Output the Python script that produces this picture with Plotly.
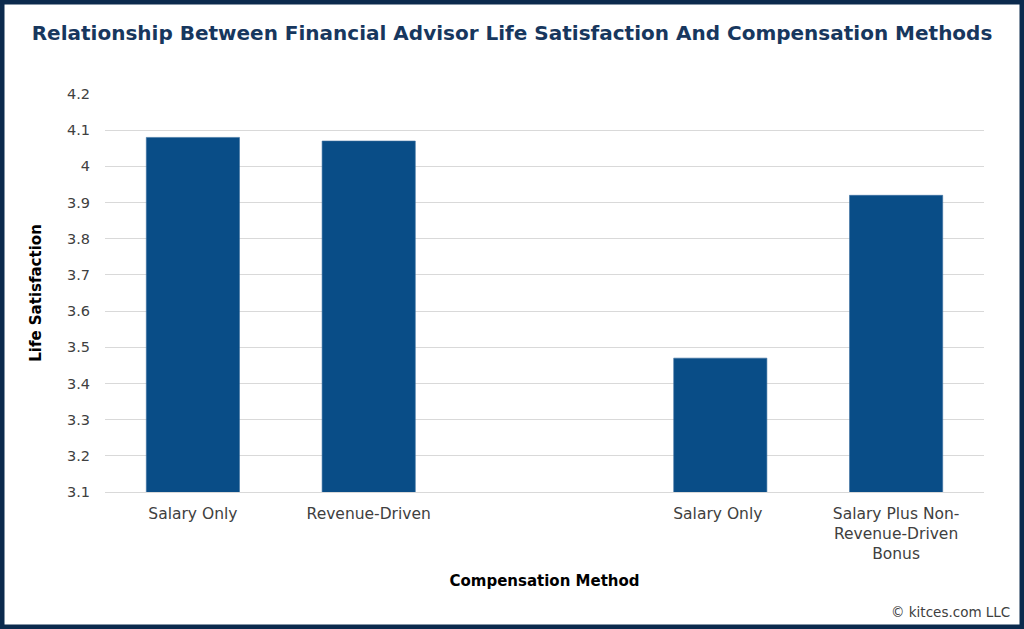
import plotly.graph_objects as go

categories = ["Salary Only", "Revenue-Driven", " ", "Salary Only ",
              "Salary Plus Non-<br>Revenue-Driven<br>Bonus"]
values = [4.08, 4.07, None, 3.47, 3.92]
y_ticks = [3.1, 3.2, 3.3, 3.4, 3.5, 3.6, 3.7, 3.8, 3.9, 4.0, 4.1, 4.2]

W, H = 1024, 629
ML, MR, MT, MB = 105, 40, 94, 137
PW, PH = W - ML - MR, H - MT - MB

FONT = "DejaVu Sans"
NAVY = "#0b2a4d"

fig = go.Figure(go.Bar(
    x=categories, y=values,
    marker=dict(color="#094d87", line=dict(color="#3a6fa0", width=0.6)),
))

def px_x(p):
    return (p - ML) / PW

def px_y(p):
    return 1 - (p - MT) / PH

fig.update_layout(
    width=W, height=H,
    margin=dict(l=ML, r=MR, t=MT, b=MB),
    paper_bgcolor="white", plot_bgcolor="white",
    bargap=0.47,
    showlegend=False,
    font=dict(family=FONT, color="#404040", size=14),
    title=dict(text="<b>Relationship Between Financial Advisor Life Satisfaction And Compensation Methods</b>",
               x=0.5, xanchor="center", y=1 - 33 / H, yanchor="middle",
               font=dict(family=FONT, size=20, color="#17375e")),
    xaxis=dict(type="category", categoryorder="array", categoryarray=categories,
               showgrid=False, showline=True, linecolor="#d9d9d9", linewidth=1,
               ticks="", ticklabelstandoff=7,
               tickfont=dict(size=15.5, color="#404040"),
               title=dict(text="<b>Compensation Method</b>", standoff=13,
                          font=dict(size=15, color="#000000"))),
    yaxis=dict(range=[3.1, 4.2], tickvals=y_ticks,
               ticktext=[f"{v:g}" for v in y_ticks],
               showgrid=True, gridcolor="#d9d9d9", gridwidth=1,
               zeroline=False, showline=False, ticks="", ticklabelstandoff=14,
               tickfont=dict(size=14.5, color="#404040"),
               title=dict(text="<b>Life Satisfaction</b>", standoff=21,
                          font=dict(size=15, color="#000000"))),
    shapes=[dict(type="rect", xref="paper", yref="paper",
                 x0=px_x(2), x1=px_x(W - 2), y0=px_y(H - 2), y1=px_y(2),
                 line=dict(color=NAVY, width=5), fillcolor="rgba(0,0,0,0)",
                 layer="above")],
    annotations=[dict(text="© kitces.com LLC", xref="paper", yref="paper",
                      x=px_x(1012), y=px_y(612), xanchor="right", yanchor="middle",
                      showarrow=False, font=dict(size=13.5, color="#404040"))],
)

fig.write_html("out.html", config={"displayModeBar": False},
               post_script="document.body.style.margin='0';document.body.style.overflow='hidden';")
